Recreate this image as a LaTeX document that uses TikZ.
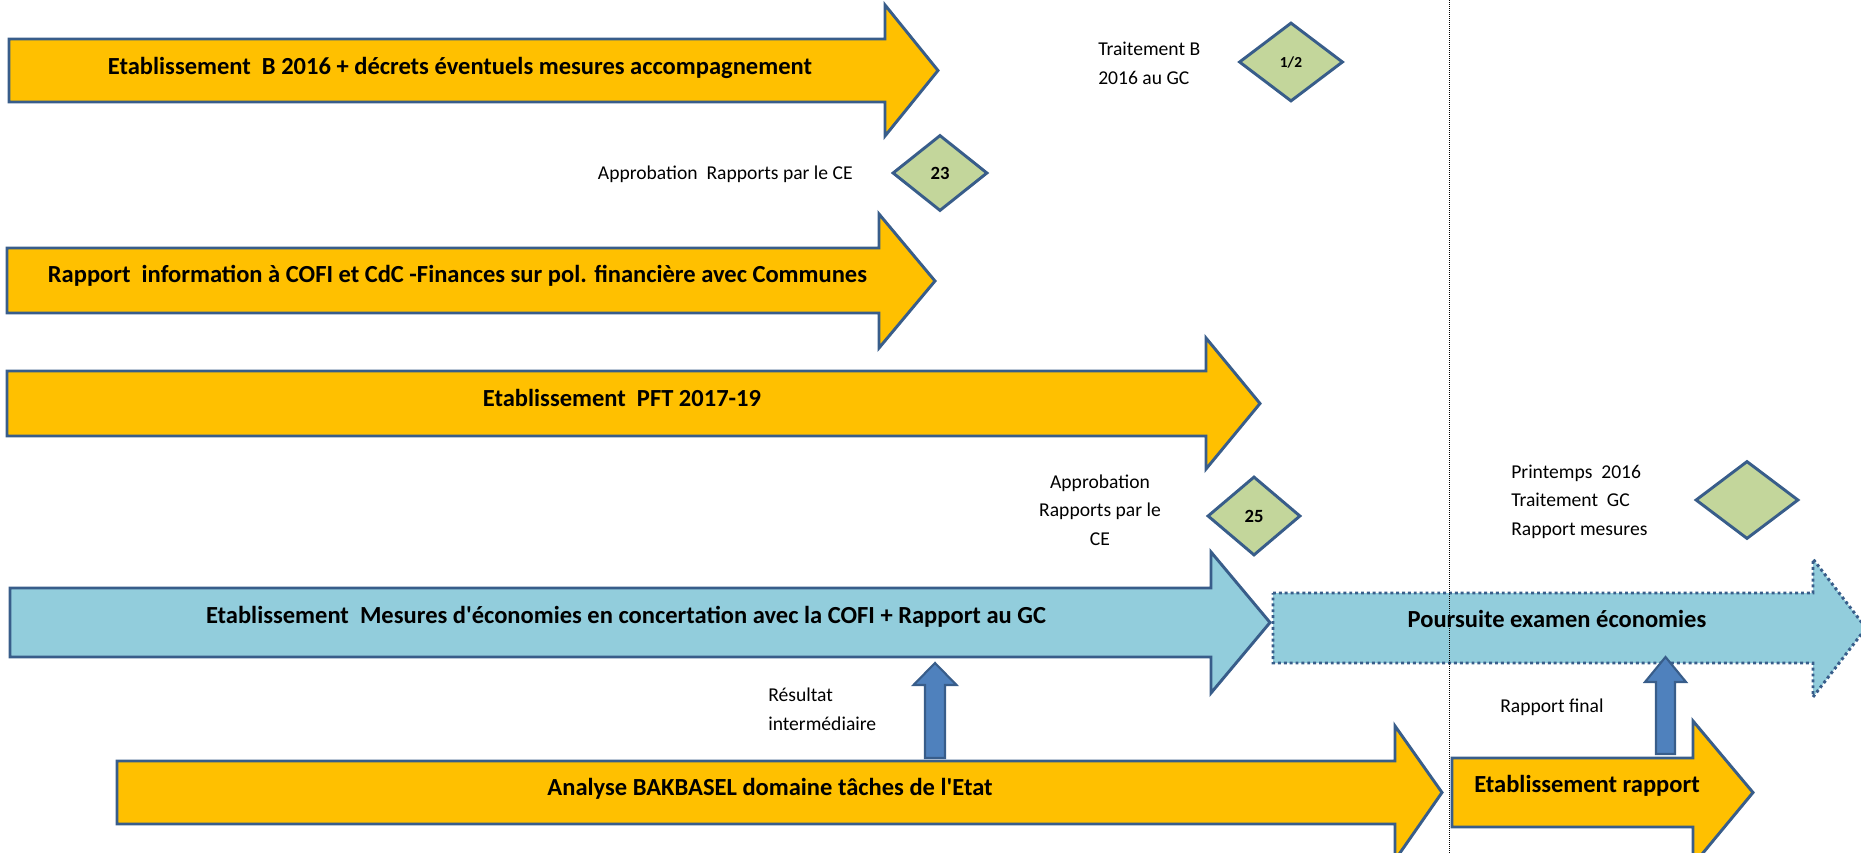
\documentclass[tikz,border=0pt]{standalone}
\usepackage{fontspec}
\setmainfont{Carlito}[Ligatures=TeXOff]
\usepackage{tikz}
\usetikzlibrary{shapes.geometric}
\definecolor{barorange}{RGB}{255,192,0}
\definecolor{barblue}{RGB}{146,205,220}
\definecolor{edgeblue}{RGB}{56,93,138}
\definecolor{milegreen}{RGB}{195,214,155}
\definecolor{pushblue}{RGB}{79,129,189}
\tikzset{
  bar/.style={draw=edgeblue, line width=2.2pt, fill=barorange, line join=miter},
  barlabel/.style={font=\bfseries\fontsize{18.4}{22}\selectfont, inner sep=0pt},
  milestone/.style={diamond, draw=edgeblue, line width=2.2pt, fill=milegreen, inner sep=0pt, font=\bfseries\fontsize{14}{16}\selectfont},
  note/.style={font=\fontsize{14.7}{21.3}\selectfont, inner sep=0pt},
  pushup/.style={draw=edgeblue, line width=1.6pt, fill=pushblue},
  sepline/.style={black, line width=0.5pt, dash pattern=on 0.75pt off 0.75pt}
}

\begin{document}
\begin{tikzpicture}[x=0.75pt,y=0.75pt,yscale=-1,xscale=1]
\useasboundingbox (0,0) rectangle (1861,853);
\clip (0,0) rectangle (1861,853);

%Shape: Right Arrow B 2016
\draw [bar] (9,39) -- (885,39) -- (885,5) -- (938,70.5) -- (885,136) -- (885,102) -- (9,102) -- cycle ;
\node [barlabel, anchor=base] (lblB) at (460,74) {Etablissement\ \ B 2016 + décrets éventuels mesures accompagnement};
%Shape: Right Arrow rapport communes
\draw [bar] (7,248) -- (879,248) -- (879,214) -- (935,281) -- (879,348) -- (879,313) -- (7,313) -- cycle ;
\node [barlabel, anchor=base] (lblCom) at (457.5,282) {Rapport\ \ information à COFI et CdC -Finances sur pol. financière avec Communes};
%Shape: Right Arrow PFT
\draw [bar] (7,371) -- (1206,371) -- (1206,338) -- (1260,403.5) -- (1206,469) -- (1206,436) -- (7,436) -- cycle ;
\node [barlabel, anchor=base] (lblPFT) at (622,406) {Etablissement\ \ PFT 2017-19};
%Shape: Right Arrow mesures
\draw [bar, fill=barblue] (10,588) -- (1211,588) -- (1211,552) -- (1270,622.5) -- (1211,693) -- (1211,657) -- (10,657) -- cycle ;
\node [barlabel, anchor=base] (lblMes) at (626,623) {Etablissement\ \ Mesures d'économies en concertation avec la COFI + Rapport au GC};
%Shape: Right Arrow poursuite (dotted)
\draw [bar, fill=barblue, dash pattern=on 2.2pt off 2.2pt] (1273,593) -- (1813,593) -- (1813,559) -- (1866,628) -- (1813,697) -- (1813,663) -- (1273,663) -- cycle ;
\node [barlabel, anchor=base] (lblPours) at (1557,627) {Poursuite examen économies};
%Shape: Right Arrow BAKBASEL
\draw [bar] (117,761) -- (1395,761) -- (1395,726) -- (1442,792.5) -- (1395,860) -- (1395,824) -- (117,824) -- cycle ;
\node [barlabel, anchor=base] (lblBak) at (770,795) {Analyse BAKBASEL domaine tâches de l'Etat};
%Shape: Right Arrow rapport
\draw [bar] (1452,758) -- (1693,758) -- (1693,721) -- (1753,792.5) -- (1693,865) -- (1693,827) -- (1452,827) -- cycle ;
\node [barlabel, anchor=base] (lblRap) at (1587,792) {Etablissement rapport};

%Shape: Diamonds
\node [milestone, minimum width=78pt, minimum height=59.25pt, font=\bfseries\fontsize{11.5}{13}\selectfont] (m12) at (1291,62) {1/2};
\node [milestone, minimum width=71.25pt, minimum height=57pt] (m23) at (940,173) {23};
\node [milestone, minimum width=69.75pt, minimum height=59.25pt] (m25) at (1254,516) {25};
\node [milestone, minimum width=77.25pt, minimum height=58.5pt] (mGC) at (1747,500) {};

%Text notes (base = last line)
\node [note, align=left, anchor=base west] (nTraitB) at (1098,84) {Traitement B\\2016 au GC};
\node [note, anchor=base east] (nApp23) at (853,179) {Approbation\ \ Rapports par le CE};
\node [note, align=center, anchor=base] (nApp25) at (1100,545) {Approbation\\Rapports par le\\CE};
\node [note, align=left, anchor=base west] (nPrint) at (1511,535) {Printemps\ \ 2016\\Traitement\ \ GC\\Rapport mesures};
\node [note, align=left, anchor=base west] (nRes) at (768,730) {Résultat\\intermédiaire};
\node [note, anchor=base west] (nFinal) at (1500,712) {Rapport final};

%Shape: Up Arrows
\draw [pushup] (925,758) -- (925,685) -- (913.5,685) -- (935,663) -- (956.5,685) -- (945,685) -- (945,758) -- cycle ;
\draw [pushup] (1656,754) -- (1656,682) -- (1645,682) -- (1665.5,657) -- (1686,682) -- (1675,682) -- (1675,754) -- cycle ;

%Straight Lines
\draw [sepline] (1449,0) -- (1449,853) ;

\end{tikzpicture}
\end{document}
